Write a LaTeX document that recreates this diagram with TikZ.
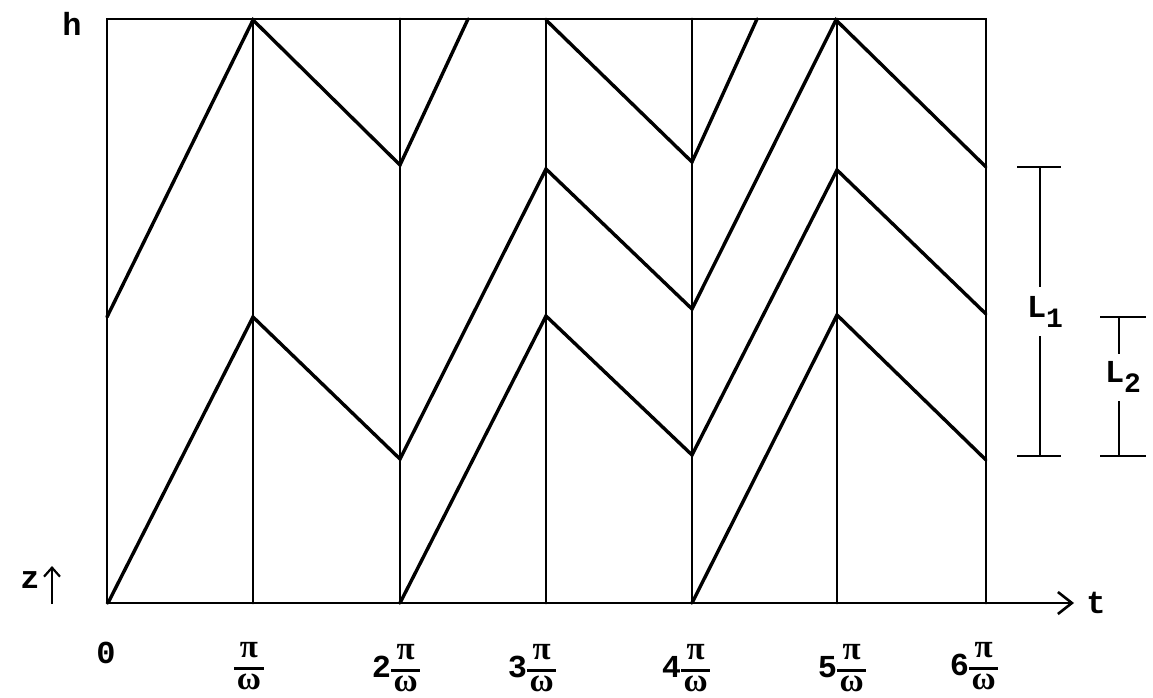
\documentclass[tikz,border=0pt]{standalone}
\usepackage{fontspec}
\usetikzlibrary{arrows.meta}
\newfontfamily\tw{Liberation Mono}
\newfontfamily\gk{Liberation Serif}
\tikzset{
  frame/.style={line width=2.8pt, line cap=round},
  zig/.style={line width=3.4pt, line join=miter, line cap=round},
  bar/.style={line width=2.4pt},
  lbl/.style={font=\tw\bfseries\fontsize{32}{34}\selectfont, inner sep=0pt},
  tick/.style={inner sep=0pt, font=\tw\bfseries\fontsize{32}{32}\selectfont},
}
\newcommand{\piw}{{\setlength{\arrayrulewidth}{2.4pt}\setlength{\tabcolsep}{0pt}\renewcommand{\arraystretch}{0.72}\gk\bfseries\fontsize{33}{33}\selectfont\begin{tabular}{c}\,π\,\\[2pt]\hline\rule{0pt}{20pt}ω\end{tabular}}}
\begin{document}
\begin{tikzpicture}[x=1pt,y=-1pt]
\useasboundingbox (0,0) rectangle (1153,698);
% frame
\draw[frame] (107,603) -- (107,19) -- (986,19) -- (986,603);
\draw[frame,-{Straight Barb[length=14pt,width=22pt,line width=2.6pt]}] (107,603) -- (1074,603);
\foreach \x in {253,400,546,692,837} \draw[frame] (\x,19) -- (\x,603);
% zigzags
\draw[zig] (107,317) -- (253,20) -- (400,165) -- (468,19);
\draw[zig] (108,603) -- (253,317) -- (400,459) -- (546,169) -- (692,309) -- (836,20) -- (986,167);
\draw[zig] (400,603) -- (546,316) -- (692,455) -- (837,170) -- (986,314);
\draw[zig] (546,20) -- (692,162) -- (757,19);
\draw[zig] (692,603) -- (837,315) -- (986,460);
% axis labels
\node[lbl] (h) at (72,24) {h};
\node[lbl] (z) at (30,580) {z};
\node[lbl] (t) at (1096,603) {t};
\draw[line width=2.2pt,-{Straight Barb[length=9pt,width=16pt,line width=2.2pt]}] (52,604) -- (52,566);
% tick labels
\node[tick] (t0) at (106,653) {0};
\node[tick] (t1) at (249,669) {\piw};
\node[tick] (t2) at (396,671) {2\piw};
\node[tick] (t3) at (532,671) {3\piw};
\node[tick] (t4) at (686,671) {4\piw};
\node[tick] (t5) at (842,671) {5\piw};
\node[tick] (t6) at (974,669) {6\piw};
% L1, L2
\node[lbl] (L1) at (1045,312) {L\raisebox{-10pt}{\fontsize{28}{28}\selectfont 1}};
\node[lbl] (L2) at (1123,377) {L\raisebox{-10pt}{\fontsize{28}{28}\selectfont 2}};
\draw[bar] (1017,167) -- (1061,167);
\draw[bar] (1017,456) -- (1061,456);
\draw[bar] (1040,167) -- (1040,287);
\draw[bar] (1040,336) -- (1040,456);
\draw[bar] (1100,317) -- (1146,317);
\draw[bar] (1100,456) -- (1146,456);
\draw[bar] (1119,317) -- (1119,354);
\draw[bar] (1119,401) -- (1119,456);
\end{tikzpicture}
\end{document}
